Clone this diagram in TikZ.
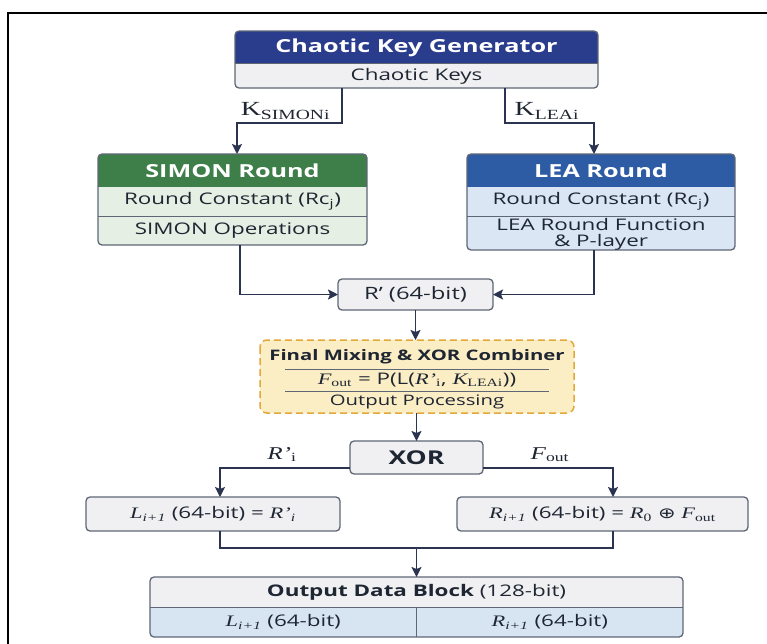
\documentclass[tikz,border=0pt]{standalone}
\usepackage{fontspec}
\usepackage{graphicx}
\setmainfont{Open Sans}
\newfontfamily\keyfont{Liberation Serif}
\usetikzlibrary{arrows.meta,calc}

\definecolor{ink}{HTML}{1F2633}
\definecolor{wire}{HTML}{2A3450}
\definecolor{edge}{HTML}{5F6776}
\definecolor{graybody}{HTML}{F0F0F2}
\definecolor{keyhead}{HTML}{2A3C8C}
\definecolor{simonhead}{HTML}{3E7E49}
\definecolor{simonbody}{HTML}{E5EFE3}
\definecolor{leahead}{HTML}{2D5CA4}
\definecolor{leabody}{HTML}{DAE6F4}
\definecolor{mixfill}{HTML}{FBEDC4}
\definecolor{mixedge}{HTML}{E2A83A}
\definecolor{outrow}{HTML}{D7E5F3}

\newcommand{\fs}[1]{\fontsize{#1}{#1}\selectfont}
% wide lettering used throughout the chart
\newcommand{\wide}[1]{\scalebox{1.4}[1]{#1}}
% italic variable and upright serif subscript
\newcommand{\vi}[1]{{\keyfont\itshape #1}}
\newcommand{\sbs}[1]{\textsubscript{\keyfont #1}}
\newcommand{\sbi}[1]{\textsubscript{\keyfont\itshape #1}}

\tikzset{
  anchorbox/.style={rectangle, inner sep=0pt, outer sep=0pt},
  panel/.style={draw=edge, line width=1.3pt, rounded corners=4pt},
  conn/.style={draw=wire, line width=1.8pt},
  arr/.style={conn, -{Stealth[length=10pt,width=10pt,inset=2pt]}},
  headtxt/.style={text=white, font=\fs{18}\bfseries, inner sep=0pt},
  rowtxt/.style={text=ink, font=\fs{16}, inner sep=0pt, align=center},
  lbl/.style={text=ink, inner sep=0pt},
}

\begin{document}
\begin{tikzpicture}[x=1pt,y=-1pt]
\useasboundingbox (0,0) rectangle (767,643);
\fill[white] (0,0) rectangle (767,643);

% outer frame
\draw[line width=2.2pt, black] (8,650) -- (8,13) -- (775,13);

% ---------- Chaotic Key Generator ----------
\node[anchorbox, minimum width=363pt, minimum height=57pt] (ckg) at (416.5,59.5) {};
\fill[graybody, rounded corners=4pt] (ckg.north west) rectangle (ckg.south east);
\begin{scope}
  \clip[rounded corners=4pt] (ckg.north west) rectangle (ckg.south east);
  \fill[keyhead] (ckg.north west) rectangle ($(ckg.north east)+(0,32)$);
\end{scope}
\draw[edge, line width=1pt] ($(ckg.north west)+(0,32)$) -- ($(ckg.north east)+(0,32)$);
\draw[panel] (ckg.north west) rectangle (ckg.south east);
\node[headtxt] (ckgT) at ($(ckg.north)+(0,16.5)$) {\wide{Chaotic Key Generator}};
\node[rowtxt] (ckgK) at ($(ckg.north)+(0,45)$) {\wide{Chaotic Keys}};

% ---------- SIMON Round ----------
\node[anchorbox, minimum width=269pt, minimum height=91pt] (simon) at (232.5,199.5) {};
\fill[simonbody, rounded corners=4pt] (simon.north west) rectangle (simon.south east);
\begin{scope}
  \clip[rounded corners=4pt] (simon.north west) rectangle (simon.south east);
  \fill[simonhead] (simon.north west) rectangle ($(simon.north east)+(0,33)$);
\end{scope}
\draw[edge, line width=1pt] ($(simon.north west)+(0,62)$) -- ($(simon.north east)+(0,62)$);
\draw[panel] (simon.north west) rectangle (simon.south east);
\node[headtxt] (simonT) at ($(simon.north)+(0,17)$) {\wide{SIMON Round}};
\node[rowtxt] (simonA) at ($(simon.north)+(0,47.5)$) {\wide{Round Constant (Rc\textsubscript{j})}};
\node[rowtxt] (simonB) at ($(simon.north)+(0,77)$) {\wide{SIMON Operations}};

% ---------- LEA Round ----------
\node[anchorbox, minimum width=268pt, minimum height=96pt] (lea) at (601,202) {};
\fill[leabody, rounded corners=4pt] (lea.north west) rectangle (lea.south east);
\begin{scope}
  \clip[rounded corners=4pt] (lea.north west) rectangle (lea.south east);
  \fill[leahead] (lea.north west) rectangle ($(lea.north east)+(0,33)$);
\end{scope}
\draw[edge, line width=1pt] ($(lea.north west)+(0,62)$) -- ($(lea.north east)+(0,62)$);
\draw[panel] (lea.north west) rectangle (lea.south east);
\node[headtxt] (leaT) at ($(lea.north)+(0,17)$) {\wide{LEA Round}};
\node[rowtxt] (leaA) at ($(lea.north)+(0,47.5)$) {\wide{Round Constant (Rc\textsubscript{j})}};
\node[rowtxt] (leaB) at ($(lea.north)+(0,81)$)
  {\wide{\begin{tabular}{@{}c@{}}LEA Round Function\\[-1pt]\& P-layer\end{tabular}}};

% ---------- R' ----------
\node[anchorbox, minimum width=155pt, minimum height=31pt] (rp) at (415.5,294.5) {};
\draw[panel, fill=graybody] (rp.north west) rectangle (rp.south east);
\node[rowtxt, font=\fs{17}] (rpT) at (rp.center) {\wide{R’ (64-bit)}};

% ---------- Final mixing ----------
\node[anchorbox, minimum width=314pt, minimum height=73pt] (mix) at (417,376.5) {};
\draw[draw=mixedge, fill=mixfill, line width=1.5pt, dash pattern=on 7pt off 4pt, rounded corners=7pt]
  (mix.north west) rectangle (mix.south east);
\node[rowtxt, font=\fs{14.5}\bfseries] (mixT) at ($(mix.north)+(0,17)$) {\wide{Final Mixing \& XOR Combiner}};
\draw[edge, line width=0.9pt] ($(mix.north)+(-132,29)$) -- ($(mix.north)+(132,29)$);
\node[rowtxt, font=\fs{16}] (mixF) at ($(mix.north)+(0,40)$)
  {\wide{\vi{F}\sbs{out} = P(L(\vi{R’}\sbs{i}, \vi{K}\sbs{LEAi}))}};
\draw[edge, line width=0.9pt] ($(mix.north)+(-132,51)$) -- ($(mix.north)+(132,51)$);
\node[rowtxt, font=\fs{14.5}] (mixO) at ($(mix.north)+(0,62)$) {\wide{Output Processing}};

% ---------- XOR ----------
\node[anchorbox, minimum width=133pt, minimum height=33pt] (xor) at (416.5,457.5) {};
\draw[panel, fill=graybody] (xor.north west) rectangle (xor.south east);
\node[rowtxt, font=\fs{19}\bfseries] (xorT) at (xor.center) {\wide{XOR}};

% ---------- L / R halves ----------
\node[anchorbox, minimum width=254pt, minimum height=34pt] (lb) at (213,514) {};
\draw[panel, fill=graybody] (lb.north west) rectangle (lb.south east);
\node[rowtxt, font=\fs{16}] (lbT) at (lb.center) {\wide{\vi{L}\sbi{i+1} (64-bit) = \vi{R’}\sbi{i}}};

\node[anchorbox, minimum width=291pt, minimum height=34pt] (rb) at (602.5,514) {};
\draw[panel, fill=graybody] (rb.north west) rectangle (rb.south east);
\node[rowtxt, font=\fs{16}] (rbT) at (rb.center)
  {\wide{\vi{R}\sbi{i+1} (64-bit) = \vi{R}\sbs{0} {\fontspec{DejaVu Sans}\fs{15}⊕} \vi{F}\sbs{out}}};

% ---------- Output data block ----------
\node[anchorbox, minimum width=533pt, minimum height=60pt] (odb) at (416.5,607) {};
\fill[graybody, rounded corners=4pt] (odb.north west) rectangle (odb.south east);
\begin{scope}
  \clip[rounded corners=4pt] (odb.north west) rectangle (odb.south east);
  \fill[outrow] (odb.west) rectangle (odb.south east);
\end{scope}
\draw[edge, line width=1pt] (odb.west) -- (odb.east);
\draw[edge, line width=1pt] (odb.center) -- (odb.south);
\draw[panel] (odb.north west) rectangle (odb.south east);
\node[rowtxt, font=\fs{16}] (odbT) at ($(odb.north)+(0,15)$) {\wide{\textbf{Output Data Block} (128-bit)}};
\node[rowtxt, font=\fs{16}] (odbL) at ($(odb.south west)!0.5!(odb.south)+(0,-15)$) {\wide{\vi{L}\sbi{i+1} (64-bit)}};
\node[rowtxt, font=\fs{16}] (odbR) at ($(odb.south)!0.5!(odb.south east)+(0,-15)$) {\wide{\vi{R}\sbi{i+1} (64-bit)}};

% ---------- connectors ----------
\draw[arr] ($(ckg.south)+(-74.5,0)$) |- ($(simon.north)+(4.5,-31)$) -- ($(simon.north)+(4.5,0)$);
\draw[arr] ($(ckg.south)+(88.5,0)$) |- ($(lea.north)+(-7,-31)$) -- ($(lea.north)+(-7,0)$);
\node[lbl, anchor=east] (ksimon) at ($(ckg.south)+(-86,23)$) {\wide{\keyfont\fs{20}K\textsubscript{\fs{14}SIMONi}}};
\node[lbl, anchor=west] (klea) at ($(ckg.south)+(98,23)$) {\wide{\keyfont\fs{20}K\textsubscript{\fs{14}LEAi}}};

\draw[arr] ($(simon.south)+(7.5,0)$) |- (rp.west);
\draw[arr] ($(lea.south)+(-7,0)$) |- (rp.east);
\draw[arr] (rp.south) -- (mix.north -| rp.south);
\draw[arr] (mix.south -| xor.north) -- (xor.north);

\draw[arr] ($(xor.west)+(0,10.5)$) -| ($(lb.north)+(7,0)$);
\draw[arr] ($(xor.east)+(0,10.5)$) -| ($(rb.north)+(10.5,0)$);
\node[lbl, font=\fs{18}] (rlab) at ($(xor.west)+(-68,-3)$) {\wide{\vi{R’}\sbs{i}}};
\node[lbl, font=\fs{18}] (flab) at ($(xor.east)+(67,-3)$) {\wide{\vi{F}\sbs{out}}};

\draw[conn] ($(lb.south)+(7,0)$) |- ($(rb.south)+(10.5,17)$) -- ($(rb.south)+(10.5,0)$);
\draw[arr] (odb.north |- 0,548) -- (odb.north);
\end{tikzpicture}
\end{document}
